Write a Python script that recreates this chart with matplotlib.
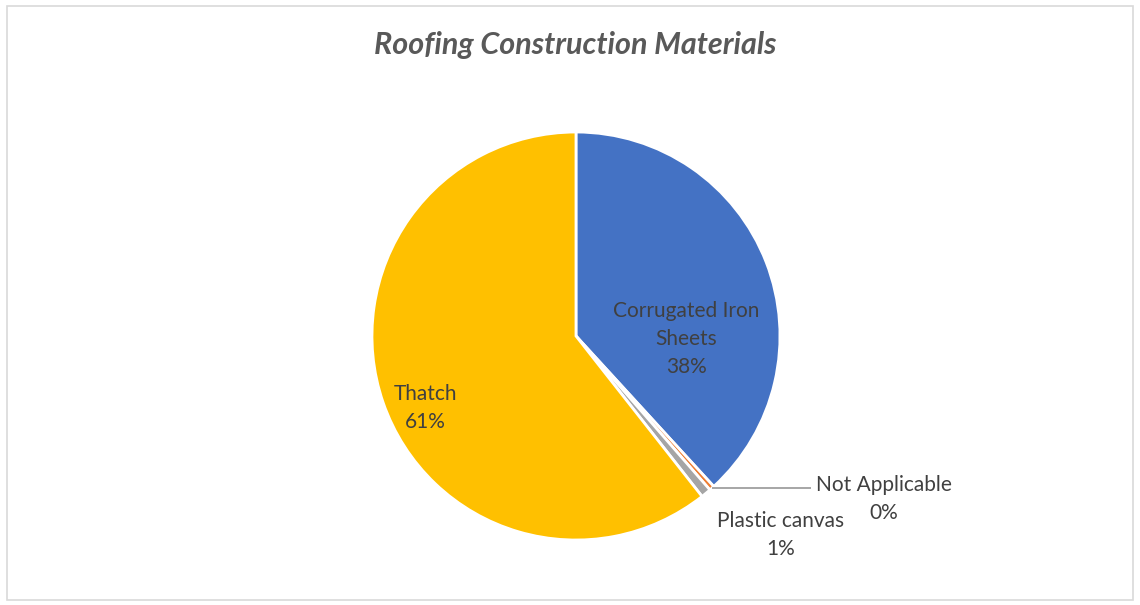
import numpy as np
import matplotlib
matplotlib.use("Agg")
import matplotlib.pyplot as plt
from matplotlib.patches import Rectangle

# roofing material shares (%), clockwise from 12 o'clock
materials = ["Corrugated Iron\nSheets", "Not Applicable", "Plastic canvas", "Thatch"]
shares = [38.2, 0.4, 0.8, 60.6]
colors = ["#4472C4", "#ED7D31", "#A5A5A5", "#FFC000"]

plt.rcParams["font.family"] = ["Lato", "DejaVu Sans"]
text_col = "#404040"
fs = 15
ls = 1.5

fig = plt.figure(figsize=(11.4, 6.05), dpi=100)
fig.patches.append(Rectangle((0.006, 0.008), 0.988, 0.982, transform=fig.transFigure,
                             fill=False, edgecolor="#D9D9D9", linewidth=1.2))

fig.text(0.505, 0.925, "Roofing Construction Materials", ha="center", va="center",
         fontsize=22, fontstyle="italic", fontweight="bold", color="#595959")

# square axes so the pie sits at the right place
ax = fig.add_axes([0.3263, 0.1074, 0.3579, 0.6744])
wedges, _ = ax.pie(shares, colors=colors, startangle=90, counterclock=False,
                   radius=1, wedgeprops=dict(edgecolor="white", linewidth=2))
ax.set_xlim(-1, 1)
ax.set_ylim(-1, 1)

def label(i):
    return f"{materials[i]}\n{shares[i]:.0f}%"

# inside labels
ax.text(0.54, -0.015, label(0), ha="center", va="center", fontsize=fs,
        color=text_col, linespacing=ls)
ax.text(-0.74, -0.355, label(3), ha="center", va="center", fontsize=fs,
        color=text_col, linespacing=ls)

# outside labels for the tiny slices, leader line for "Not Applicable"
w = wedges[1]
mid = np.deg2rad((w.theta1 + w.theta2) / 2)
ex, ey = np.cos(mid), np.sin(mid)
ax.plot([ex, 1.15], [ey, ey], color="#A6A6A6", lw=1.4, clip_on=False,
        solid_capstyle="butt")
ax.text(1.51, ey - 0.055, label(1), ha="center", va="center", fontsize=fs,
        color=text_col, linespacing=ls)
ax.text(1.005, -0.975, label(2), ha="center", va="center", fontsize=fs,
        color=text_col, linespacing=ls)

fig.savefig("out.png", dpi=100, facecolor="white")
